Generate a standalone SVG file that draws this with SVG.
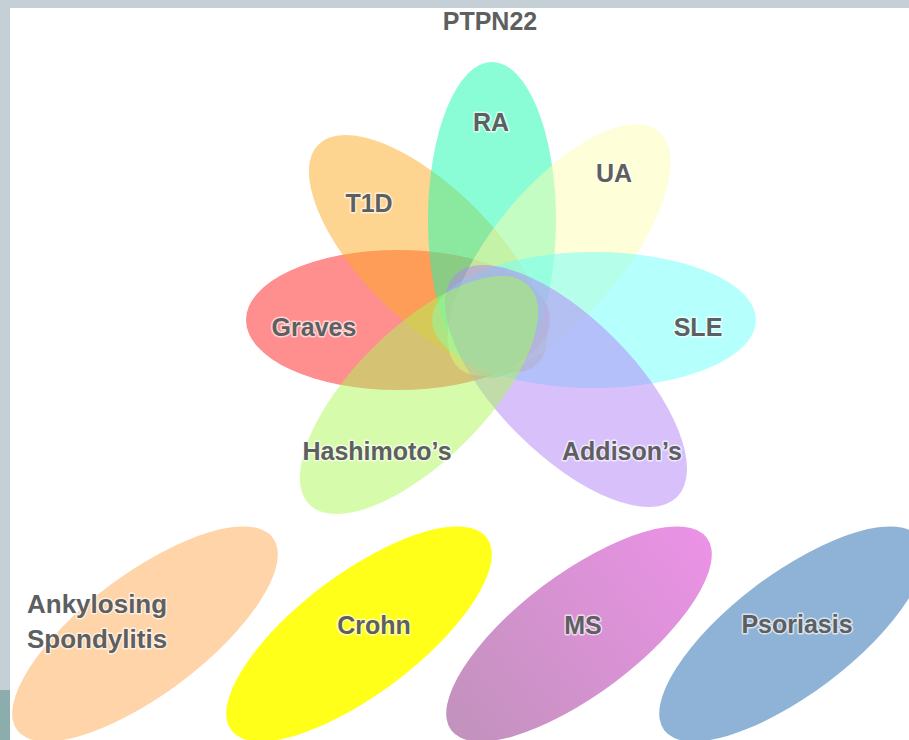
<svg xmlns="http://www.w3.org/2000/svg" width="909" height="740" viewBox="0 0 909 740">
  <defs>
    <linearGradient id="msGrad" x1="0" y1="0" x2="1" y2="0">
      <stop offset="0" stop-color="#c292bd"/>
      <stop offset="1" stop-color="#eb92e6"/>
    </linearGradient>
  </defs>
  <style>
    .petal { fill-opacity: 0.5; }
    .lbl { font-family: "Liberation Sans", Arial, sans-serif; font-weight: bold; font-size: 25px; fill: #5e5f61; stroke: #ffffff; stroke-width: 3; stroke-opacity: 0.65; stroke-linejoin: round; paint-order: stroke; text-anchor: middle; }
    .lbl-left { text-anchor: start; font-size: 26px; }
  </style>
  <rect x="0" y="0" width="909" height="740" fill="#c5d0d6"/>
  <rect x="0" y="690" width="10" height="50" fill="#8badac"/>
  <rect x="10" y="8" width="899" height="732" fill="#ffffff"/>

  <g id="title"><text class="lbl" x="490" y="30">PTPN22</text></g>

  <g id="graves"><ellipse class="petal" cx="398" cy="320" rx="152" ry="70" fill="#ff1d1d"/></g>
  <g id="t1d"><ellipse class="petal" cx="0" cy="0" rx="155" ry="66" fill="#fdab21" transform="translate(428 254) rotate(45)"/></g>
  <g id="ra"><ellipse class="petal" cx="492" cy="220" rx="64" ry="158" fill="#15fbad"/></g>
  <g id="ua"><ellipse class="petal" cx="0" cy="0" rx="155" ry="65" fill="#fdfdb1" transform="translate(559 250) rotate(-50)"/></g>
  <g id="sle"><ellipse class="petal" cx="594" cy="320" rx="162" ry="68" fill="#6bfffb"/></g>
  <g id="addison"><ellipse class="petal" cx="0" cy="0" rx="157" ry="68" fill="#b181f7" transform="translate(566 386) rotate(45)"/></g>
  <g id="hashimoto"><ellipse class="petal" cx="0" cy="0" rx="155" ry="66" fill="#abf757" transform="translate(419 395) rotate(-45)"/></g>

  <g id="labels-flower">
    <text class="lbl" x="491" y="131">RA</text>
    <text class="lbl" x="369" y="212">T1D</text>
    <text class="lbl" x="614" y="182">UA</text>
    <text class="lbl" x="314" y="336">Graves</text>
    <text class="lbl" x="698" y="336">SLE</text>
    <text class="lbl" x="377" y="460">Hashimoto’s</text>
    <text class="lbl" x="622" y="460">Addison’s</text>
  </g>

  <g id="ankylosing">
    <ellipse cx="0" cy="0" rx="160" ry="60" fill="#fed4a8" transform="translate(145 634) rotate(-37)"/>
    <text class="lbl lbl-left" x="27" y="613">Ankylosing</text>
    <text class="lbl lbl-left" x="27" y="648">Spondylitis</text>
  </g>
  <g id="crohn">
    <ellipse cx="0" cy="0" rx="160" ry="60" fill="#ffff1a" transform="translate(359 634) rotate(-37)"/>
    <text class="lbl" x="374" y="634">Crohn</text>
  </g>
  <g id="ms">
    <ellipse cx="0" cy="0" rx="160" ry="60" fill="url(#msGrad)" transform="translate(579 634) rotate(-37)"/>
    <text class="lbl" x="583" y="634">MS</text>
  </g>
  <g id="psoriasis">
    <ellipse cx="0" cy="0" rx="160" ry="60" fill="#8fb3d6" transform="translate(792 634) rotate(-37)"/>
    <text class="lbl" x="797" y="633">Psoriasis</text>
  </g>
  <g id="connectors"></g>
</svg>
